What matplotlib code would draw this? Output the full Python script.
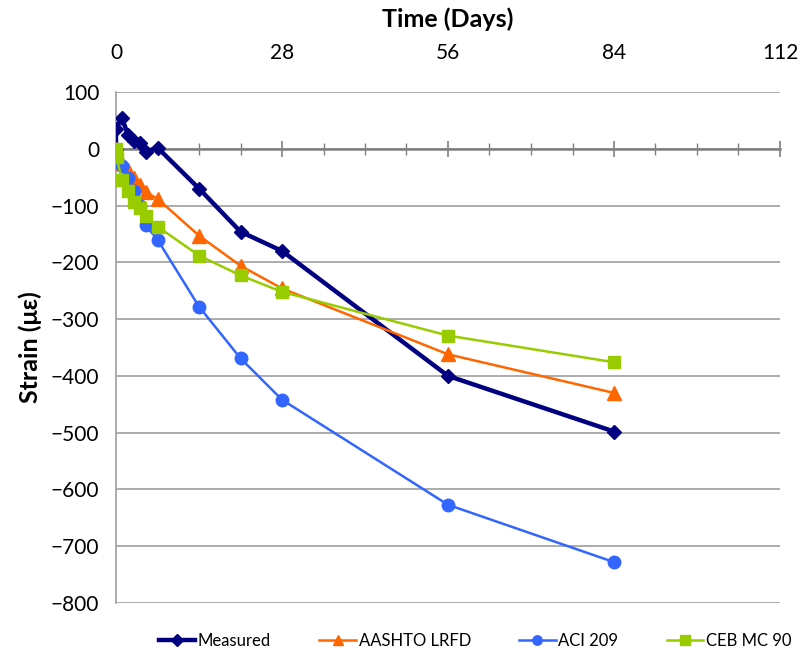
import matplotlib
matplotlib.use("Agg")
import matplotlib.pyplot as plt
from matplotlib.ticker import MultipleLocator

plt.rcParams['font.family'] = ['Lato', 'DejaVu Sans']

# Strain development over time (days)
measured_days = [0, 0, 1, 2, 3, 4, 5, 7, 14, 21, 28, 56, 84]
measured = [0, 35, 55, 25, 14, 10, -5, 2, -70, -146, -180, -400, -498]

model_days = [0, 1, 2, 3, 4, 5, 7, 14, 21, 28, 56, 84]
aashto = [0, -25, -38, -52, -64, -76, -88, -153, -206, -246, -362, -430]
aci209 = [0, -30, -52, -75, -100, -135, -160, -278, -369, -442, -627, -728]

ceb_days = [0, 0.1, 1, 2, 3, 4, 5, 7, 14, 21, 28, 56, 84]
ceb = [0, -15, -55, -75, -93, -105, -119, -137, -188, -223, -252, -329, -376]

x_ticks = [0, 28, 56, 84, 112]

fig = plt.figure(figsize=(8.01, 6.61), dpi=100)
ax = fig.add_axes([116 / 801, 1 - 603 / 661, (780 - 116) / 801, (603 - 92) / 661])

grid_c = '#a6a6a6'
ax.set_xlim(0, 112)
ax.set_ylim(-800, 100)
ax.yaxis.set_major_locator(MultipleLocator(100))
ax.grid(axis='y', color=grid_c, lw=1.3, zorder=0)
ax.set_axisbelow(True)

ax.plot(measured_days, measured, color='#000080', lw=3.2, marker='D', ms=7.5,
        label='Measured', zorder=3)
ax.plot(model_days, aashto, color='#ff6600', lw=1.8, marker='^', ms=9.5,
        label='AASHTO LRFD', zorder=4)
ax.plot(model_days, aci209, color='#3366ff', lw=1.8, marker='o', ms=9,
        label='ACI 209', zorder=5)
ax.plot(ceb_days, ceb, color='#99cc00', lw=1.8, marker='s', ms=9,
        label='CEB MC 90', zorder=6)

# spines: left axis in grey, horizontal axis through zero
for s in ('top', 'right'):
    ax.spines[s].set_visible(False)
ax.spines['left'].set_color(grid_c)
ax.spines['left'].set_linewidth(1.3)
ax.spines['bottom'].set_position(('data', 0))
ax.spines['bottom'].set_color('#808080')
ax.spines['bottom'].set_linewidth(1.8)
ax.spines['bottom'].set_zorder(1)

ax.set_xticks(x_ticks)
ax.xaxis.set_minor_locator(MultipleLocator(7))
ax.tick_params(axis='x', which='major', direction='inout', length=11.5,
               width=1.2, color='#808080', bottom=True, top=False,
               labelbottom=False, labeltop=True, labelsize=15, pad=15)
ax.tick_params(axis='x', which='minor', direction='inout', length=8,
               width=1.0, color='#808080', bottom=True, top=False)
ax.tick_params(axis='y', length=0, labelsize=15, pad=12)

ax.xaxis.set_label_position('top')
ax.set_xlabel('Time (Days)', fontsize=18, fontweight='bold', labelpad=12)
ax.set_ylabel('Strain (με)', fontsize=18, fontweight='bold', labelpad=6)

fig.legend(loc='lower center', bbox_to_anchor=(0.593, -0.004), ncol=4,
           frameon=False, fontsize=12, handlelength=2.2, columnspacing=2.9,
           handletextpad=0.15, markerscale=0.75)

fig.savefig('out.png', dpi=100)
